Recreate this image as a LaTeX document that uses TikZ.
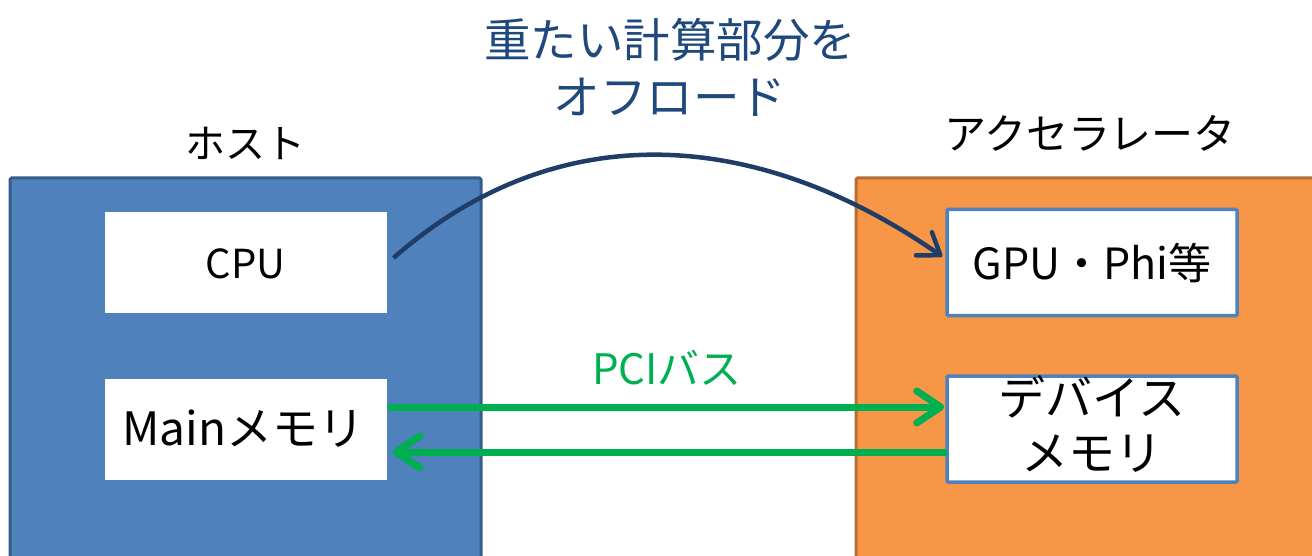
\documentclass[tikz,border=0pt]{standalone}
\usepackage{fontspec}
\setmainfont{Noto Sans CJK JP}
\usetikzlibrary{arrows.meta}
\definecolor{hostfill}{HTML}{4F81BD}
\definecolor{hostedge}{HTML}{385D8A}
\definecolor{accfill}{HTML}{F79646}
\definecolor{accedge}{HTML}{B66D31}
\definecolor{navy}{HTML}{1F3D66}
\definecolor{titleblue}{HTML}{1F497D}
\definecolor{pcigreen}{HTML}{00B050}
\tikzset{
  bigbox/.style={rectangle, line width=3pt, minimum width=#1, minimum height=420pt, inner sep=0pt, rounded corners=1.5pt},
  hostbox/.style={bigbox=471pt, fill=hostfill, draw=hostedge},
  accbox/.style={bigbox=470pt, fill=accfill, draw=accedge},
  whitebox/.style={rectangle, fill=white, draw=white, line width=0.8pt, minimum width=281pt, minimum height=100pt, inner sep=0pt},
  devbox/.style={rectangle, fill=white, draw=hostfill, line width=3.5pt, minimum width=290pt, minimum height=106pt, inner sep=0pt, rounded corners=1pt},
  lbl/.style={font=\fontsize{40}{48}\selectfont, inner sep=0pt, align=center},
  offload/.style={draw=navy, line width=4.5pt, -{Straight Barb[length=20pt,width=28pt,round]}},
  bus/.style={draw=pcigreen, line width=7pt, -{Straight Barb[length=24pt,width=32pt,round]}},
}
\begin{document}
\begin{tikzpicture}[x=1pt,y=-1pt]
\useasboundingbox (0,0) rectangle (1312,556);
\clip (0,0) rectangle (1312,556);
% big containers
\node[hostbox] (host) at (245.5,388) {};
\node[accbox] (acc) at (1091,388) {};
% labels
\node[lbl] (hostlbl) at (245,143) {ホスト};
\node[lbl, font=\fontsize{42}{48}\selectfont] (acclbl) at (1090,133) {アクセラレータ};
\node[lbl, text=titleblue, font=\fontsize{46.5}{57}\selectfont] (title) at (670,67) {重たい計算部分を\\オフロード};
\node[lbl, text=pcigreen, font=\fontsize{42}{48}\selectfont] (pci) at (667,368) {PCIバス};
% inner boxes
\node[whitebox] (cpu) at (245.5,262) {};
\node[lbl] (cputxt) at (245.5,264) {CPU};
\node[whitebox] (mainmem) at (245.5,429) {};
\node[lbl, font=\fontsize{46}{48}\selectfont] (maintxt) at (243.5,429) {Mainメモリ};
\node[devbox] (gpu) at (1092,262.5) {};
\node[lbl, font=\fontsize{43}{48}\selectfont] (gputxt) at (1092,263) {GPU・Phi等};
\node[devbox] (devmem) at (1092,429) {};
\node[lbl, font=\fontsize{47}{55}\selectfont] (devtxt) at (1092,424) {デバイス\\メモリ};
% connectors
\coordinate (cpuout) at ([xshift=7pt,yshift=4pt]cpu.east);
\coordinate (gpuin) at ([xshift=-3pt,yshift=6pt]gpu.west);
\draw[offload] (cpuout) .. controls (560,112) and (760,130) .. (gpuin);
\coordinate (busA) at ([xshift=2pt]mainmem.east |- 0,407);
\coordinate (busB) at ([xshift=-1pt]devmem.west |- 0,407);
\coordinate (busC) at ([xshift=2pt]devmem.west |- 0,452);
\coordinate (busD) at ([xshift=6pt]mainmem.east |- 0,452);
\draw[bus] (busA) -- (busB);
\draw[bus] (busC) -- (busD);
\end{tikzpicture}
\end{document}
